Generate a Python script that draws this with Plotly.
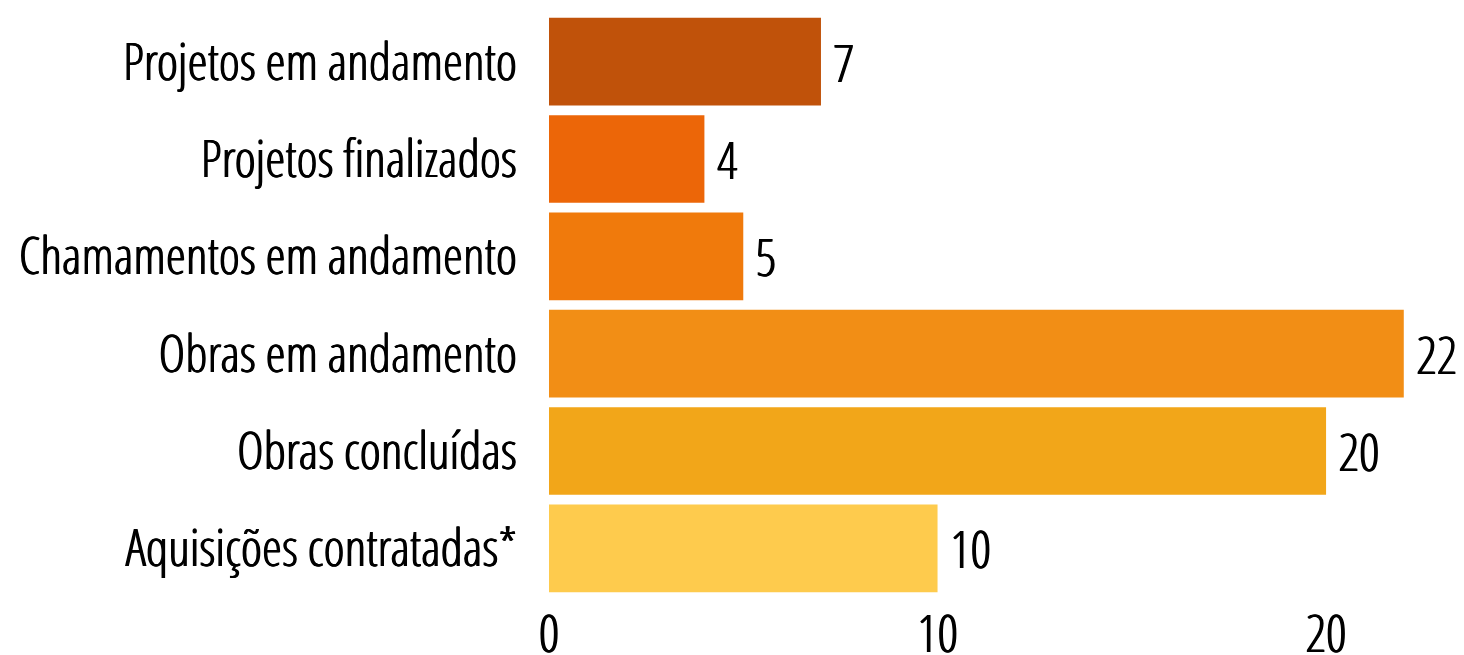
import plotly.graph_objects as go

categories = ["Projetos em andamento", "Projetos finalizados", "Chamamentos em andamento",
              "Obras em andamento", "Obras concluídas", "Aquisições contratadas*"]
values = [7, 4, 5, 22, 20, 10]
colors = ["#C0520A", "#EC6608", "#F07A0C", "#F28E15", "#F2A619", "#FECB4D"]
tick_vals = [0, 10, 20]

FONT = "Open Sans Condensed Light, Open Sans Condensed, DejaVu Sans Condensed"
FS = 51
SHADOW = "0.6px 0 0 #000, -0.6px 0 0 #000"
fnt = dict(family=FONT, size=FS, color="#000000", weight=300, shadow=SHADOW)

fig = go.Figure(go.Bar(
    y=categories, x=values, orientation="h",
    marker=dict(color=colors, line=dict(width=0)),
    text=[" " + str(v) for v in values], textposition="outside",
    textfont=fnt,
    cliponaxis=False,
))
# page body has an 8px margin, so the figure is 8px smaller than the window
fig.update_layout(
    width=1456, height=647,
    margin=dict(l=541, r=0, t=5, b=58, autoexpand=False),
    paper_bgcolor="white", plot_bgcolor="white",
    bargap=0.1, showlegend=False,
    font=fnt,
)
fig.update_xaxes(range=[0, 23.55], tickvals=tick_vals, showgrid=False, zeroline=False,
                 showline=False, ticks="", tickfont=fnt, automargin=False,
                 ticklabelstandoff=3)
fig.update_yaxes(autorange="reversed", showgrid=False, showline=False, ticks="",
                 ticklabelstandoff=31, tickfont=fnt, automargin=False)
fig.write_html("out.html")
